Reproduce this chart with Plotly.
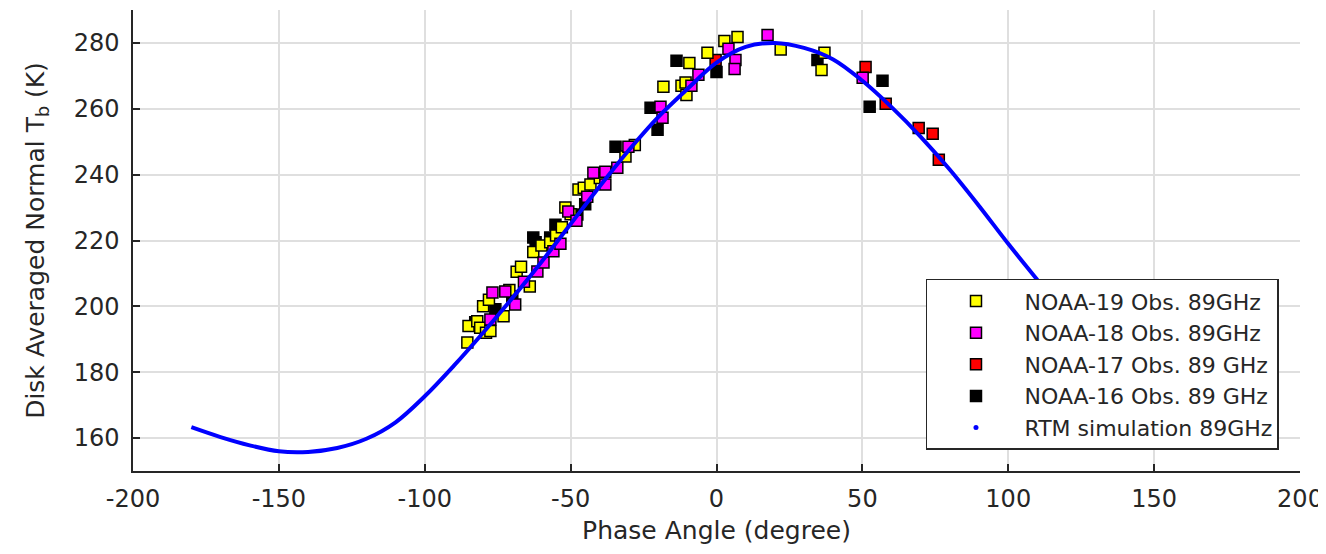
#!/usr/bin/env python
import plotly.graph_objs as go

# RTM simulation curve (phase angle in degree, Tb in K)
sim_phase = [-180, -170, -160, -150, -140, -130, -120, -110, -100, -90, -80, -70, -60, -50,
             -40, -30, -20, -10, 0, 10, 20, 30, 40, 50, 60, 70, 80, 90, 100, 110, 120,
             130, 140, 150, 160, 170, 180]
sim_tb = [163.3, 160.3, 157.8, 156.0, 155.8, 157.0, 159.8, 164.8, 172.7, 182.0, 192.0, 202.5,
          213.5, 225.0, 236.5, 247.5, 257.5, 266.0, 274.0, 278.8, 280.0, 278.5, 275.0, 268.5,
          260.5, 251.5, 241.5, 230.5, 219.0, 208.0, 197.0, 187.5, 179.0, 172.0, 167.0, 164.5, 163.3]

# NOAA-19 obs
n19_phase = [-85.4, -85.0, -82.0, -81.0, -79.0, -77.5, -80.0, -78.0, -73.0, -71.0, -68.5, -67.0,
             -64.0, -62.8, -60.0, -57.0, -55.0, -53.0, -51.8, -50.0, -47.3, -45.5, -43.2, -40.0,
             -31.2, -28.0, -18.2, -12.0, -10.3, -10.6, -9.3, -3.1, 2.7, 7.2, 22.0, 36.0, 37.0]
n19_tb = [189.0, 194.0, 195.5, 193.5, 192.0, 192.5, 200.0, 202.0, 197.0, 205.0, 210.5, 212.0,
          206.0, 216.5, 218.5, 219.5, 221.5, 224.0, 230.0, 228.0, 235.5, 236.0, 237.0, 239.0,
          245.5, 249.0, 266.7, 267.0, 264.2, 268.0, 273.9, 277.0, 280.6, 281.8, 278.0, 271.8, 277.0]

# NOAA-18 obs
n18_phase = [-77.5, -76.8, -72.4, -69.0, -66.0, -61.4, -59.3, -55.9, -53.5, -50.8, -48.0, -44.3,
             -42.2, -38.1, -38.1, -34.0, -30.2, -19.2, -18.5, -8.6, -6.2, 4.1, 6.5, 6.2, 17.5, 50.1]
n18_tb = [196.0, 204.2, 204.5, 200.6, 207.5, 210.6, 213.3, 216.7, 219.0, 228.8, 226.0, 233.3,
          240.6, 237.0, 240.9, 242.1, 248.5, 260.6, 257.3, 267.0, 270.3, 278.2, 274.8, 272.1, 282.4, 269.4]

# NOAA-17 obs
n17_phase = [-0.3, 51.1, 58.0, 69.3, 74.1, 76.2]
n17_tb = [274.8, 272.7, 261.5, 254.2, 252.4, 244.5]

# NOAA-16 obs
n16_phase = [-82.7, -75.8, -70.0, -62.8, -62.0, -57.0, -55.2, -47.7, -45.0, -34.6, -22.6, -20.2,
             -13.7, 0.0, 34.6, 52.5, 56.9]
n16_tb = [195.2, 199.1, 203.0, 220.9, 219.5, 220.9, 224.8, 227.9, 231.0, 248.5, 260.3, 253.6,
          274.6, 271.2, 274.8, 260.6, 268.5]

x_ticks = [-200, -150, -100, -50, 0, 50, 100, 150, 200]
x_tick_labels = ['-200', '-150', '-100', '-50', '0', '50', '100', '150', '200']
y_ticks = [160, 180, 200, 220, 240, 260, 280]

txt = '#262626'

def obs(x, y, color, name, rank):
    return go.Scatter(
        x=x, y=y, mode='markers', name=name, legendrank=rank,
        marker=dict(symbol='square', size=11, color=color,
                    line=dict(color='black', width=1.5)))

data = [
    obs(n16_phase, n16_tb, 'black', 'NOAA-16 Obs. 89 GHz', 4),
    obs(n17_phase, n17_tb, '#ff0000', 'NOAA-17 Obs. 89 GHz', 3),
    obs(n19_phase, n19_tb, '#ffff00', 'NOAA-19 Obs. 89GHz', 1),
    obs(n18_phase, n18_tb, '#ff00ff', 'NOAA-18 Obs. 89GHz', 2),
    go.Scatter(x=sim_phase, y=sim_tb, mode='lines', showlegend=False,
               line=dict(color='#0000ff', width=4, shape='spline')),
    # legend entry for the simulation (drawn as dots in the original)
    go.Scatter(x=[None], y=[None], mode='markers', name='RTM simulation 89GHz', legendrank=5,
               marker=dict(color='#0000ff', size=5)),
]

# page body has an 8px margin, so the figure is a bit smaller than the window
layout = go.Layout(
    width=1318, height=546,
    paper_bgcolor='white', plot_bgcolor='white',
    font=dict(family='DejaVu Sans', size=24, color=txt),
    margin=dict(l=125, r=26, t=2, b=83),
    xaxis=dict(
        range=[-200, 200], tickvals=x_ticks, ticktext=x_tick_labels,
        ticks='inside', ticklen=7, tickwidth=1.5, tickcolor=txt,
        showline=True, linecolor=txt, linewidth=1.5,
        showgrid=True, gridcolor='#dfdfdf', gridwidth=1.5, zeroline=False,
        tickfont=dict(size=24), ticklabelstandoff=5, automargin=False,
        title=dict(text='Phase Angle (degree)', font=dict(size=25), standoff=10),
    ),
    yaxis=dict(
        range=[150, 290], tickvals=y_ticks,
        ticks='inside', ticklen=7, tickwidth=1.5, tickcolor=txt,
        showline=True, linecolor=txt, linewidth=1.5,
        showgrid=True, gridcolor='#dfdfdf', gridwidth=1.5, zeroline=False,
        tickfont=dict(size=24), ticklabelstandoff=7, automargin=False,
        title=dict(text='Disk Averaged Normal T<sub>b</sub> (K)', font=dict(size=25), standoff=22),
    ),
    legend=dict(
        x=0.982, y=0.046, xanchor='right', yanchor='bottom',
        bgcolor='white', bordercolor='#262626', borderwidth=1.5,
        font=dict(size=22, color=txt), itemwidth=87, traceorder='normal',
    ),
    showlegend=True,
)

fig = go.Figure(data=data, layout=layout)
fig.write_html("out.html")
